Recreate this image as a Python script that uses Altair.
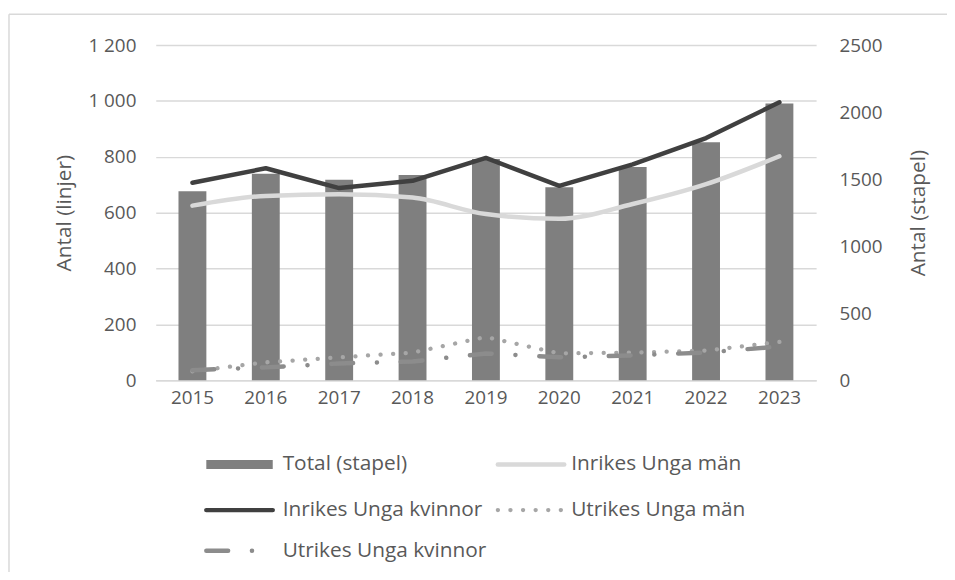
import altair as alt
import pandas as pd

years = [2015, 2016, 2017, 2018, 2019, 2020, 2021, 2022, 2023]
total_stapel = [1410, 1540, 1495, 1530, 1650, 1440, 1590, 1775, 2065]
inrikes_kvinnor = [707, 759, 688, 714, 796, 696, 773, 867, 995]
inrikes_man = [625, 660, 666, 654, 595, 578, 631, 702, 802]
utrikes_man = [32, 64, 82, 99, 155, 96, 99, 106, 137]
utrikes_kvinnor = [36, 46, 60, 67, 96, 82, 89, 99, 121]

left_ticks = [0, 200, 400, 600, 800, 1000, 1200]
right_ticks = [0, 500, 1000, 1500, 2000, 2500]

df = pd.DataFrame({
    "År": years,
    "Total (stapel)": total_stapel,
    "Inrikes Unga kvinnor": inrikes_kvinnor,
    "Inrikes Unga män": inrikes_man,
    "Utrikes Unga män": utrikes_man,
    "Utrikes Unga kvinnor": utrikes_kvinnor,
})

FONT = "Open Sans"
TXT = "#595959"
GRID = "#d9d9d9"
FS = 19
FS_T = 21

C_BAR = "#7f7f7f"
C_IK = "#404040"
C_IM = "#d9d9d9"
C_UM = "#a6a6a6"
C_UK = "#8c8c8c"

DOT = [0.1, 12.6]
DASHDOT = [22, 24, 0.1, 24]

x_enc = alt.X(
    "År:O",
    scale=alt.Scale(paddingInner=0.62, paddingOuter=0.31),
    axis=alt.Axis(title=None, labelAngle=0, labelFontSize=FS, labelColor=TXT,
                  labelFont=FONT, labelPadding=8, ticks=False, tickSize=0,
                  domainColor=GRID, domainWidth=1.5),
)

bars = alt.Chart(df).mark_bar(color=C_BAR).encode(
    x=x_enc,
    y=alt.Y(
        "Total (stapel):Q",
        scale=alt.Scale(domain=[0, 2500], nice=False),
        axis=alt.Axis(orient="right", values=right_ticks, format="d",
                      title="Antal (stapel)", titleAngle=270, titleBaseline="top",
                      titleFont=FONT, titleFontSize=FS_T, titleColor=TXT,
                      titleFontWeight="normal", titlePadding=26, grid=False,
                      domain=False, ticks=False, tickSize=0, labelPadding=23,
                      labelFont=FONT, labelFontSize=FS, labelColor=TXT),
    ),
)

left_scale = alt.Scale(domain=[0, 1200], nice=False)
left_axis = alt.Axis(orient="left", values=left_ticks,
                     labelExpr="replace(format(datum.value, ','), ',', ' ')",
                     title="Antal (linjer)", titleFont=FONT, titleFontSize=FS_T,
                     titleColor=TXT, titleFontWeight="normal", titlePadding=14,
                     grid=True, gridColor=GRID, gridWidth=1.5, domain=False,
                     ticks=False, tickSize=0, labelPadding=20, labelFont=FONT,
                     labelFontSize=FS, labelColor=TXT)


def line(field, color, width, dash=None, interp="linear"):
    kw = dict(color=color, strokeWidth=width, strokeCap="round",
              strokeJoin="round", interpolate=interp)
    if dash is not None:
        kw["strokeDash"] = dash
    return alt.Chart(df).transform_fold([field], as_=["serie", "antal"]).mark_line(**kw).encode(
        x=x_enc,
        y=alt.Y("antal:Q", scale=left_scale, axis=left_axis),
    )


lines = alt.layer(
    line("Inrikes Unga män", C_IM, 4.5, interp="monotone"),
    line("Inrikes Unga kvinnor", C_IK, 4.5),
    line("Utrikes Unga män", C_UM, 4.3, dash=DOT),
    line("Utrikes Unga kvinnor", C_UK, 4.5, dash=DASHDOT),
)

# ---- manual legend (positions relative to plot origin) ----
ROWS = [423, 469, 510]
COL_SYM = [(51, 118), (345, 412)]
COL_TXT = [128, 419]

legend_items = [
    ("Total (stapel)", 0, 0, dict(color=C_BAR, strokeWidth=9, strokeCap="butt")),
    ("Inrikes Unga män", 0, 1, dict(color=C_IM, strokeWidth=4.5, strokeCap="round")),
    ("Inrikes Unga kvinnor", 1, 0, dict(color=C_IK, strokeWidth=4.5, strokeCap="round")),
    ("Utrikes Unga män", 1, 1, dict(color=C_UM, strokeWidth=4.3, strokeCap="round", strokeDash=DOT)),
    ("Utrikes Unga kvinnor", 2, 0, dict(color=C_UK, strokeWidth=4.5, strokeCap="round", strokeDash=DASHDOT)),
]

legend_layers = []
for label, r, c, style in legend_items:
    d = pd.DataFrame({"label": [label]})
    x0, x1 = COL_SYM[c]
    if r == 2:
        x1 = x0 + 48
    legend_layers.append(
        alt.Chart(d).mark_rule(**style).encode(
            x=alt.value(x0), x2=alt.value(x1), y=alt.value(ROWS[r]))
    )
    legend_layers.append(
        alt.Chart(d).mark_text(align="left", baseline="middle", font=FONT,
                               fontSize=FS_T, color=TXT).encode(
            x=alt.value(COL_TXT[c]), y=alt.value(ROWS[r]), text="label:N")
    )

# ---- outer frame ----
fd = pd.DataFrame({"f": [0]})
frame_top = alt.Chart(fd).mark_rule(color=GRID, strokeWidth=1.5).encode(
    x=alt.value(-148), x2=alt.value(820), y=alt.value(-31))
frame_left = alt.Chart(fd).mark_rule(color=GRID, strokeWidth=1.5).encode(
    x=alt.value(-148), y=alt.value(-31), y2=alt.value(560))

chart = alt.layer(
    bars, lines, *legend_layers, frame_top, frame_left
).resolve_scale(y="independent").properties(
    width=666, height=338,
    autosize=alt.AutoSizeParams(type="none"),
    padding={"left": 149, "top": 35, "right": 132, "bottom": 191},
    background="white",
).configure_view(stroke=None)

chart.save("out.html", embed_options={"renderer": "svg", "actions": False})
